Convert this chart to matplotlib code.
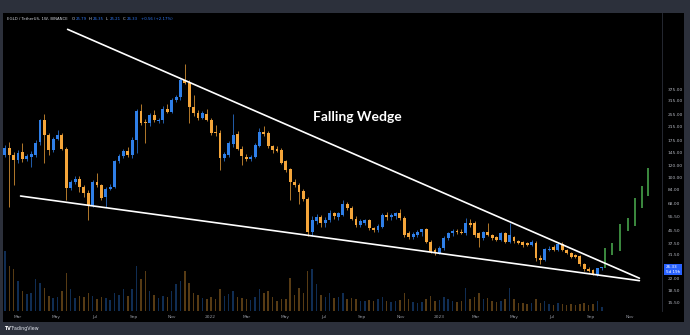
import matplotlib
matplotlib.use("Agg")
import matplotlib.pyplot as plt
import matplotlib.dates as mdates
import matplotlib.transforms as mtrans
from matplotlib.patches import Rectangle
from matplotlib.ticker import NullLocator
import pandas as pd
import numpy as np

# ---------------- data (weekly EGLD/USDT) ----------------
start_date = "2021-02-08"
opens = [140, 155, 140, 130, 146, 131, 136, 140, 169, 236,
         189, 150, 178, 189, 153, 86, 93, 98, 87, 79,
         66, 93, 89, 75, 84, 87, 127, 137, 149, 140,
         175, 270, 229, 225, 254, 232, 237, 278, 268, 318,
         334, 429, 412, 287, 264, 245, 259, 237, 196, 194,
         133, 140, 164, 191, 153, 136, 131, 135, 160, 197,
         194, 159, 154, 151, 127, 113, 94, 90, 82, 72,
         44.5, 52, 55, 51, 53, 58.5, 55, 57, 67, 63,
         54, 49, 51, 53, 47, 45.6, 48, 57, 55.5, 56,
         58.5, 54.5, 43.3, 41.3, 42.6, 44, 46, 38.2, 33.8, 32.5,
         35, 40.2, 43.3, 45, 44.5, 43.3, 51, 50.5, 43.3, 40.3,
         44, 42.3, 41, 39.2, 43.3, 38.2, 41.3, 38.8, 38, 37.5,
         36.4, 37.8, 30.2, 29.3, 33.8, 35.5, 33.8, 37, 33.8, 32.5,
         31.6, 30.8, 27.5, 25.6, 25, 23.3, 25.79]
highs = [162, 170, 147, 151, 167, 141, 149, 175, 241, 258,
         195, 182, 203, 195, 158, 96, 102, 102, 89, 83,
         96, 107, 91, 87, 91, 130, 142, 153, 158, 182,
         278, 302, 241, 264, 274, 245, 289, 302, 326, 343,
         443, 545, 429, 343, 274, 270, 280, 245, 219, 203,
         147, 172, 257, 199, 160, 142, 140, 167, 208, 216,
         199, 162, 160, 155, 130, 115, 98, 92, 84, 75,
         56, 58, 57, 55, 61.5, 60, 60, 71, 69, 65,
         56, 54, 54, 54, 48, 50, 59, 59.5, 58.5, 60,
         62.5, 56, 45, 44, 45.5, 46.3, 47, 39, 35, 36,
         41.5, 44, 46, 46.5, 46, 54.5, 54, 52, 44, 45,
         50.5, 43, 41.5, 44, 44, 50.5, 42, 39.5, 38.8, 38,
         39.2, 38.8, 31.5, 35, 36, 36.4, 37.8, 38.2, 34.5, 33,
         32, 31.5, 28, 26.3, 25.4, 26, 26.35]
lows = [136, 64, 89, 124, 126, 128, 117, 136, 162, 124,
        140, 147, 175, 151, 71, 83, 91, 81, 75, 53,
        64, 87, 71, 64, 83, 86, 124, 133, 136, 133,
        145, 219, 168, 215, 229, 225, 225, 262, 262, 311,
        320, 405, 225, 250, 236, 241, 232, 189, 186, 112,
        128, 136, 158, 151, 120, 128, 127, 133, 158, 186,
        155, 145, 147, 122, 108, 71, 87, 67, 70, 41.5,
        41.5, 50, 48, 48, 51.5, 54, 53, 56, 61.5, 53,
        47.5, 47.5, 49, 45.6, 44, 44, 47, 53, 53, 54,
        53, 41, 39.8, 40, 41, 42, 37.5, 32.3, 31.5, 32,
        34, 39, 42, 43, 43, 42.3, 48, 41, 35.5, 39.5,
        41.5, 39.5, 38.8, 38.8, 37.5, 37.5, 37.5, 37, 35.5, 36,
        35.8, 28.7, 27.5, 28.7, 33.5, 33.5, 33.5, 33.5, 32, 30.2,
        30, 26.5, 24.9, 24.4, 23.2, 23, 25.21]
closes = [155, 140, 130, 144, 131, 137, 142, 167, 236, 189,
          150, 178, 189, 153, 86, 93, 98, 87, 79, 66,
          93, 89, 74, 84, 87, 127, 137, 149, 140, 175,
          270, 225, 225, 254, 237, 237, 278, 268, 318, 334,
          429, 412, 287, 262, 245, 262, 237, 194, 194, 133,
          141, 167, 189, 153, 137, 131, 135, 162, 197, 191,
          159, 151, 148, 125, 112, 94, 90, 81, 72, 44.5,
          53, 55.5, 51, 53, 58.5, 56, 58.5, 67, 63, 54,
          49, 52, 53, 47, 45.6, 48.5, 57, 55.5, 57.5, 58.5,
          54.5, 42.3, 41, 43, 44.6, 46, 38.2, 33, 32.5, 35,
          40.2, 43.3, 45, 44, 43.5, 51, 49.5, 42.3, 40.3, 44,
          42.3, 40.3, 39.5, 43.3, 38.2, 42.3, 38.6, 37.8, 36.4, 36.4,
          38.2, 29.9, 29.1, 34.2, 34.5, 33.8, 37, 33.8, 32.3, 30.5,
          30.3, 27.5, 25.3, 24.7, 23.6, 25.77, 26.33]
volumes = [60, 45, 42, 30, 20, 17, 18, 32, 28, 23,
           15, 13, 14, 20, 38, 22, 13, 15, 14, 18,
           15, 12, 14, 13, 11, 18, 16, 22, 15, 22,
           45, 32, 40, 20, 16, 13, 15, 14, 20, 27,
           30, 40, 28, 18, 16, 13, 12, 14, 12, 22,
           15, 17, 20, 14, 13, 12, 11, 14, 22, 18,
           20, 14, 10, 12, 12, 33, 16, 23, 18, 40,
           42, 27, 16, 14, 18, 13, 14, 18, 12, 13,
           12, 10, 10, 11, 10, 12, 14, 10, 9, 10,
           11, 18, 12, 9, 8, 9, 12, 15, 10, 11,
           14, 12, 10, 9, 10, 23, 12, 14, 18, 12,
           13, 10, 9, 10, 12, 23, 12, 8, 8, 7,
           8, 12, 8, 10, 7, 6, 8, 7, 6, 7,
           6, 7, 8, 6, 7, 10, 4]

# projected (green) bars
proj_dates = ["2023-09-23", "2023-10-05", "2023-10-17", "2023-10-29",
              "2023-11-10", "2023-11-21", "2023-12-01"]
proj_low = [25.7, 31.4, 33.4, 45.1, 48.6, 63.0, 75.8]
proj_high = [34.7, 37.4, 49.6, 54.3, 73.8, 88.4, 115.0]

# wedge trend lines (start / end)
upper_dates = ["2021-05-19", "2023-11-17"]
upper_prices = [915, 22.2]
lower_dates = ["2021-03-05", "2023-11-17"]
lower_prices = [75.8, 21.4]

price_ticks = [375, 315, 255, 215, 175, 145, 120, 100, 84, 68, 55.5, 45.5,
               37.5, 31.5, 22, 18.5, 15.5]
month_ticks = ["2021-03-01", "2021-05-01", "2021-07-01", "2021-09-01", "2021-11-01",
               "2022-01-01", "2022-03-01", "2022-05-01", "2022-07-01", "2022-09-01",
               "2022-11-01", "2023-01-01", "2023-03-01", "2023-05-01", "2023-07-01",
               "2023-09-01", "2023-11-01"]
month_labels = ["Mar", "May", "Jul", "Sep", "Nov", "2022", "Mar", "May", "Jul", "Sep",
                "Nov", "2023", "Mar", "May", "Jul", "Sep", "Nov"]

# ---------------- styling ----------------
BLUE = "#2f7fe8"
ORANGE = "#f4a53a"
GREEN = "#4caf50"
W, H = 690, 335


def fx(px):
    return px / W


def fy(py):
    return 1 - py / H


fig = plt.figure(figsize=(6.9, 3.35), dpi=100)
fig.patch.set_facecolor("#2c303b")
fig.patches.append(Rectangle((fx(3), fy(322)), fx(684) - fx(3), fy(13) - fy(322),
                             transform=fig.transFigure, facecolor="black",
                             edgecolor="none", zorder=-10))

rect = [fx(3), fy(311), fx(662) - fx(3), fy(13) - fy(311)]
axv = fig.add_axes(rect)
ax = fig.add_axes(rect, sharex=axv)

dates = pd.date_range(start_date, periods=len(opens), freq="7D")
x = mdates.date2num(dates)
o = np.array(opens, float)
h = np.array(highs, float)
l = np.array(lows, float)
c = np.array(closes, float)
up = c >= o
cols = np.where(up, BLUE, ORANGE)

# volume
axv.set_facecolor("none")
axv.bar(x, volumes, width=2.4, color=cols, alpha=0.36, linewidth=0)
axv.set_ylim(0, 300)
axv.axis("off")

# candles
ax.patch.set_visible(False)
ax.set_yscale("log")
ax.vlines(x, l, h, colors=cols, linewidth=0.6, alpha=0.85, zorder=2)
bot = np.minimum(o, c)
top = np.maximum(np.maximum(o, c), bot * 1.016)
ax.bar(x, top - bot, bottom=bot, width=4.6, color=cols, linewidth=0, zorder=3)

# projection
pdx = mdates.date2num(pd.to_datetime(proj_dates))
ax.vlines(pdx, proj_low, proj_high, colors=GREEN, linewidth=1.1, zorder=3)

# wedge
ax.plot(mdates.date2num(pd.to_datetime(upper_dates)), upper_prices,
        color="white", linewidth=1.2, zorder=4, solid_capstyle="round")
ax.plot(mdates.date2num(pd.to_datetime(lower_dates)), lower_prices,
        color="white", linewidth=1.2, zorder=4, solid_capstyle="round")

t0 = mdates.date2num(pd.Timestamp(start_date))
ax.set_xlim(t0 - 3, t0 + 1048)
ax.set_ylim(13.6, 1168)

ax.yaxis.tick_right()
ax.yaxis.set_minor_locator(NullLocator())
ax.set_yticks(price_ticks)
ax.set_yticklabels([f"{p:.2f}" for p in price_ticks])
ax.tick_params(axis="y", length=0, pad=4, labelsize=3.2, labelcolor="#b2b5be")
ax.set_xticks(mdates.date2num(pd.to_datetime(month_ticks)))
ax.set_xticklabels(month_labels)
ax.tick_params(axis="x", length=0, pad=3, labelsize=3.2, labelcolor="#9598a1")
for s in ["top", "left", "bottom"]:
    ax.spines[s].set_visible(False)
ax.spines["right"].set_color("#2a2e39")
ax.spines["right"].set_linewidth(0.6)

# last price box
trans = mtrans.offset_copy(mtrans.blended_transform_factory(ax.transAxes, ax.transData),
                           fig=fig, x=0, y=-2.5, units="dots")
ax.text(1.006, closes[-1], f"{closes[-1]:.2f}\n5d 19h", transform=trans, ha="left",
        va="center", fontsize=3.0, color="white", linespacing=1.2,
        bbox=dict(boxstyle="square,pad=0.35", fc="#2962ff", ec="none"), zorder=6)

# title text
ax.text(fx(357), fy(117), "Falling Wedge", transform=fig.transFigure, ha="center",
        va="center", fontsize=10, color="white", fontweight="bold", family="Lato")

# header
fig.text(fx(7), fy(19), "EGLD / TetherUS, 1W, BINANCE", fontsize=2.8,
         color="#d1d4dc", va="center", ha="left")
hdr = [("O", "25.79", 72), ("H", "26.35", 89), ("L", "25.21", 106), ("C", "26.33", 123)]
for k, v, px in hdr:
    fig.text(fx(px), fy(19), k, fontsize=2.8, color="#d1d4dc", va="center", ha="left")
    fig.text(fx(px + 3.6), fy(19), v, fontsize=2.8, color="#3179f5", va="center", ha="left")
fig.text(fx(141), fy(19), "+0.56 (+2.17%)", fontsize=2.8, color="#3179f5",
         va="center", ha="left")

# footer logo
fig.text(fx(4), fy(328.5), "TV", fontsize=3.4, color="white", fontweight="bold",
         va="center", ha="left")
fig.text(fx(11), fy(328.5), "TradingView", fontsize=3.4, color="#e0e3eb",
         va="center", ha="left")

fig.savefig("out.png", dpi=100, facecolor=fig.get_facecolor())
